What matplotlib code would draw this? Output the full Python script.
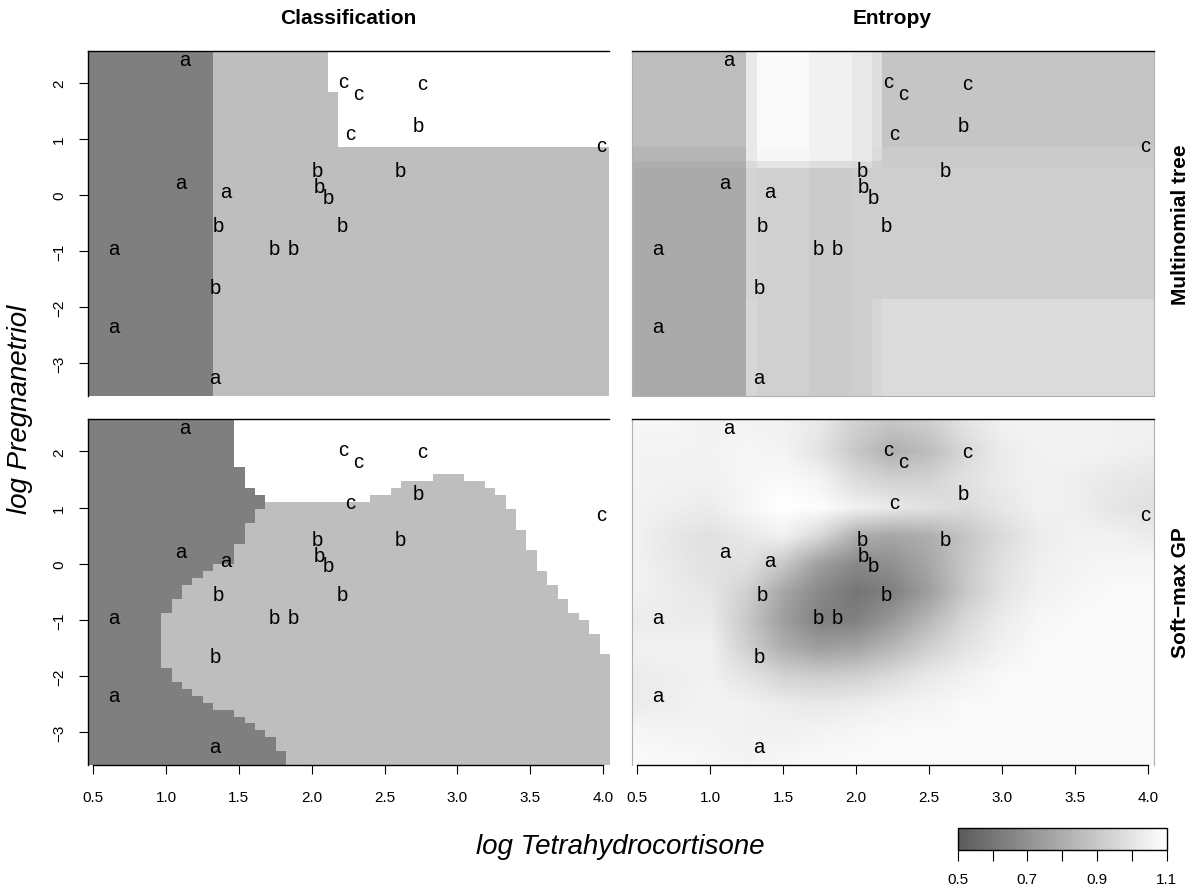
import numpy as np
import matplotlib
matplotlib.use("Agg")
import matplotlib.pyplot as plt
from matplotlib.colors import ListedColormap, LinearSegmentedColormap, Normalize
from matplotlib.cm import ScalarMappable

plt.rcParams['font.family'] = ['Liberation Sans', 'DejaVu Sans']

# Cushing's data, log scale
log_thc = [1.131, 1.099, 0.642, 1.335, 1.411, 0.642, 2.116, 1.335, 1.361, 2.054, 2.208,
           2.734, 2.041, 1.872, 1.740, 2.610, 2.322, 2.219, 2.262, 3.985, 2.760]
log_preg = [2.460, 0.262, -2.303, -3.219, 0.095, -0.916, 0.000, -1.609, -0.511, 0.182, -0.511,
            1.281, 0.470, -0.916, -0.916, 0.470, 1.856, 2.067, 1.131, 0.916, 2.028]
types = list("aaaaaabbbbbbbbbbccccc")

# grid limits of the image plots
grid_x = [0.4636, 4.04]
grid_y = [-3.58, 2.575]

# multinomial tree: classification cells (0=a, 1=b, 2=c), rows bottom->top
tree_x_edges = [0.4636, 1.32, 2.11, 2.18, 4.04]
tree_y_edges = [-3.58, 0.855, 1.83, 2.575]
tree_class = [[0, 1, 1, 1],
              [0, 1, 1, 2],
              [0, 1, 2, 2]]

# multinomial tree: entropy cells, rows bottom->top
tree_ent_x = [0.4636, 1.25, 1.32, 1.68, 1.97, 2.11, 2.18, 4.04]
tree_ent_y = [-3.58, -1.85, 0.49, 0.60, 0.85, 2.575]
tree_entropy = [[0.79, 0.95, 0.93, 0.91, 0.92, 0.95, 0.97],
                [0.79, 0.94, 0.93, 0.91, 0.92, 0.92, 0.92],
                [0.81, 0.97, 1.00, 0.98, 0.97, 0.93, 0.91],
                [0.83, 1.02, 1.07, 1.05, 1.02, 0.97, 0.91],
                [0.86, 1.02, 1.08, 1.05, 1.02, 0.98, 0.89]]

# soft-max GP classification on a 50x50 grid (rows from top)
# first column that is not class a, per row
gp_ab_start = [14] * 7 + [15] * 3 + [16] + [17] * 2 + [16] * 2 + [15] * 3 + [14] * 3 + \
              [12, 11, 10, 9, 9, 8, 8] + [7] * 8 + \
              [8, 8, 9, 10, 11, 12, 14, 15, 16, 17, 18, 18, 19, 19]
# first row that is class b, per column
gp_c_end = [13] * 17 + [12] * 10 + [11, 11, 10, 9, 9, 9, 8, 8, 8, 9, 9, 10, 11, 13,
                                    16, 19, 22, 24, 26, 28, 29, 31, 34]

# soft-max GP entropy, coarse grid (rows from top y=2.5 to y=-3.5)
gp_ent_x = [0.5, 0.75, 1.0, 1.25, 1.5, 1.75, 2.0, 2.25, 2.5, 2.75, 3.0, 3.25, 3.5, 3.75, 4.0]
gp_ent_y = [2.5, 2.0, 1.5, 1.0, 0.5, 0.0, -0.5, -1.0, -1.5, -2.0, -2.5, -3.0, -3.5]
gp_entropy = [
    [1.07, 1.07, 1.05, 1.06, 1.05, 1.02, 0.93, 0.89, 0.92, 1.00, 1.05, 1.06, 1.06, 1.05, 1.05],
    [1.06, 1.06, 1.06, 1.07, 1.06, 1.00, 0.90, 0.81, 0.86, 0.96, 1.03, 1.05, 1.06, 1.05, 1.04],
    [1.06, 1.05, 1.05, 1.07, 1.08, 1.06, 0.97, 0.93, 0.94, 0.99, 1.03, 1.05, 1.04, 1.02, 1.01],
    [1.05, 1.04, 1.03, 1.07, 1.10, 1.09, 1.05, 1.02, 0.99, 0.97, 1.01, 1.05, 1.04, 1.01, 0.99],
    [1.05, 1.01, 0.99, 1.02, 1.05, 0.96, 0.81, 0.78, 0.81, 0.89, 0.97, 1.03, 1.05, 1.05, 1.03],
    [1.05, 1.02, 0.99, 0.99, 0.90, 0.75, 0.67, 0.70, 0.78, 0.90, 0.99, 1.04, 1.06, 1.07, 1.07],
    [1.05, 1.03, 1.01, 0.93, 0.78, 0.67, 0.60, 0.64, 0.75, 0.90, 1.00, 1.05, 1.07, 1.08, 1.08],
    [1.03, 1.03, 1.03, 0.90, 0.75, 0.64, 0.64, 0.73, 0.84, 0.96, 1.03, 1.07, 1.08, 1.08, 1.08],
    [1.05, 1.05, 1.05, 0.93, 0.81, 0.75, 0.77, 0.84, 0.93, 1.00, 1.05, 1.08, 1.08, 1.08, 1.08],
    [1.03, 1.04, 1.05, 1.00, 0.94, 0.92, 0.93, 0.97, 1.02, 1.05, 1.08, 1.08, 1.08, 1.08, 1.08],
    [1.03, 1.04, 1.06, 1.05, 1.03, 1.02, 1.03, 1.05, 1.06, 1.08, 1.08, 1.08, 1.08, 1.08, 1.08],
    [1.07, 1.06, 1.06, 1.05, 1.05, 1.06, 1.07, 1.08, 1.08, 1.08, 1.08, 1.08, 1.08, 1.08, 1.08],
    [1.08, 1.08, 1.07, 1.06, 1.07, 1.08, 1.08, 1.08, 1.08, 1.08, 1.08, 1.08, 1.08, 1.08, 1.08],
]

x_ticks = [0.5, 1.0, 1.5, 2.0, 2.5, 3.0, 3.5, 4.0]
y_ticks = [-3, -2, -1, 0, 1, 2]
cbar_ticks = [0.5, 0.6, 0.7, 0.8, 0.9, 1.0, 1.1]
cbar_labels = ['0.5', '', '0.7', '', '0.9', '', '1.1']

W, H = 1199, 895
class_cmap = ListedColormap(['#7F7F7F', '#BEBEBE', '#FFFFFF'])
ent_cmap = LinearSegmentedColormap.from_list('ent', ['#5A5A5A', '#FFFFFF'])
ent_norm = Normalize(0.5, 1.1)


def box(px_left, px_top, px_right, px_bottom):
    return [px_left / W, 1 - px_bottom / H, (px_right - px_left) / W, (px_bottom - px_top) / H]


fig = plt.figure(figsize=(W / 100, H / 100), dpi=100)
ax_tl = fig.add_axes(box(87.9, 51.7, 609.0, 396.7))
ax_tr = fig.add_axes(box(631.7, 51.7, 1153.6, 396.7))
ax_bl = fig.add_axes(box(87.9, 420.0, 609.0, 766.0))
ax_br = fig.add_axes(box(631.7, 420.0, 1153.6, 766.0))

# top left: tree classification
ax_tl.pcolormesh(tree_x_edges, tree_y_edges, np.array(tree_class), cmap=class_cmap,
                 vmin=-0.5, vmax=2.5, shading='flat')

# top right: tree entropy
ax_tr.pcolormesh(tree_ent_x, tree_ent_y, np.array(tree_entropy), cmap=ent_cmap,
                 norm=ent_norm, shading='flat')

# bottom left: GP classification
rows, cols = np.indices((50, 50))
ab = np.array(gp_ab_start)
ce = np.array(gp_c_end)
gp_class = np.where(cols < ab[rows], 0, np.where(rows < ce[cols], 2, 1))
ax_bl.imshow(gp_class, cmap=class_cmap, vmin=-0.5, vmax=2.5, origin='upper',
             extent=[grid_x[0], grid_x[1], grid_y[0], grid_y[1]],
             interpolation='nearest', aspect='auto')

# bottom right: GP entropy
dx = (gp_ent_x[1] - gp_ent_x[0]) / 2
dy = (gp_ent_y[0] - gp_ent_y[1]) / 2
ax_br.imshow(np.array(gp_entropy), cmap=ent_cmap, norm=ent_norm, origin='upper',
             extent=[gp_ent_x[0] - dx, gp_ent_x[-1] + dx, gp_ent_y[-1] - dy, gp_ent_y[0] + dy],
             interpolation='bilinear', aspect='auto')

for ax in (ax_tl, ax_tr, ax_bl, ax_br):
    ax.set_xlim(grid_x)
    ax.set_ylim(grid_y)
    for x, y, t in zip(log_thc, log_preg, types):
        ax.text(x, y, t, ha='center', va='center_baseline', fontsize=14.5, clip_on=False)
    for s in ('top', 'bottom', 'left', 'right'):
        ax.spines[s].set_visible(False)
    ax.spines['top'].set_visible(True)
    ax.spines['top'].set_linewidth(1.0)
    ax.tick_params(direction='out', length=6.8, width=0.8, labelsize=11, colors='black')
    ax.set_xticks([])
    ax.set_yticks([])

for ax in (ax_tr, ax_br):
    for s in ('left', 'right'):
        ax.spines[s].set_visible(True)
        ax.spines[s].set_color('#B0B0B0')
        ax.spines[s].set_linewidth(0.8)
ax_tr.spines['bottom'].set_visible(True)
ax_tr.spines['bottom'].set_color('#B0B0B0')
ax_tr.spines['bottom'].set_linewidth(0.8)

for ax in (ax_tl, ax_bl):
    ax.spines['left'].set_visible(True)
    ax.spines['left'].set_linewidth(1.0)
    ax.set_yticks(y_ticks)
    ax.set_yticklabels([str(v).replace('-', '\u2212') for v in y_ticks],
                       rotation=90, va='center')
    ax.tick_params(axis='y', pad=9)

for ax in (ax_bl, ax_br):
    ax.spines['bottom'].set_visible(True)
    ax.spines['bottom'].set_linewidth(1.0)
    ax.spines['bottom'].set_bounds(x_ticks[0], x_ticks[-1])
    ax.set_xticks(x_ticks)
    ax.set_xticklabels(['%.1f' % v for v in x_ticks])
    ax.tick_params(axis='x', pad=11.5)

# titles and labels
fig.text(348 / W, 1 - 18 / H, 'Classification', ha='center', va='center',
         fontsize=15, fontweight='bold')
fig.text(892.6 / W, 1 - 18 / H, 'Entropy', ha='center', va='center',
         fontsize=15, fontweight='bold')
fig.text(1180 / W, 1 - 224.2 / H, 'Multinomial tree', ha='center', va='center',
         rotation=90, fontsize=15, fontweight='bold')
fig.text(1180 / W, 1 - 593 / H, 'Soft\u2212max GP', ha='center', va='center',
         rotation=90, fontsize=15, fontweight='bold')
fig.text(20 / W, 1 - 409 / H, 'log Pregnanetriol', ha='center', va='center',
         rotation=90, fontsize=20, fontstyle='italic')
fig.text(620.7 / W, 1 - 847 / H, 'log Tetrahydrocortisone', ha='center', va='center',
         fontsize=20, fontstyle='italic')

# colour key
cax = fig.add_axes(box(957.7, 829, 1166.7, 851))
cb = fig.colorbar(ScalarMappable(norm=ent_norm, cmap=ent_cmap), cax=cax,
                  orientation='horizontal')
cb.set_ticks(cbar_ticks)
cb.set_ticklabels(cbar_labels)
cb.outline.set_linewidth(1.0)
cax.tick_params(direction='out', length=8, width=0.8, labelsize=11, pad=8)

fig.savefig('out.png', dpi=100)
